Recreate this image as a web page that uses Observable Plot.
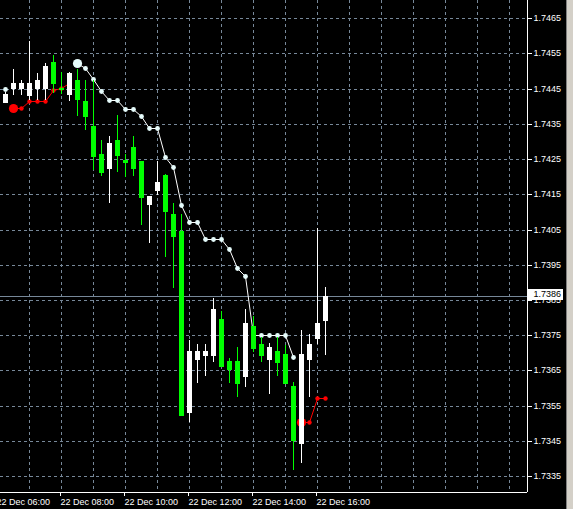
<!DOCTYPE html>
<html><head><meta charset="utf-8">
<script src="https://cdn.jsdelivr.net/npm/d3@7"></script>
<script src="https://cdn.jsdelivr.net/npm/@observablehq/plot@0.6"></script>
<style>
html,body{margin:0;padding:0;background:#000;overflow:hidden;}
#wrap{display:flex;width:573px;height:509px;}
#chart{width:566px;height:509px;}
#edge{width:7px;height:509px;background:#d4d0c8;border-left:1px solid #808080;box-sizing:border-box;}
</style></head><body>
<div id="wrap"><div id="chart"></div><div id="edge"></div></div>
<script>
// 15-minute bars, 22 Dec
const times = ["06:15","06:30","06:45","07:00","07:15","07:30","07:45","08:00","08:15","08:30",
  "08:45","09:00","09:15","09:30","09:45","10:00","10:15","10:30","10:45","11:00",
  "11:15","11:30","11:45","12:00","12:15","12:30","12:45","13:00","13:15","13:30",
  "13:45","14:00","14:15","14:30","14:45","15:00","15:15","15:30","15:45","16:00","16:15"];
const open = [1.74413,1.74453,1.74453,1.74432,1.74453,1.74453,1.74526,1.74453,1.74434,1.74475,
  1.74415,1.74344,1.74264,1.74224,1.74304,1.74246,1.74283,1.74245,1.74122,1.74162,
  1.74205,1.74094,1.74046,1.73532,1.73682,1.73694,1.73695,1.73796,1.73677,1.73677,
  1.73635,1.73776,1.73724,1.73683,1.73705,1.73696,1.73606,1.73445,1.73683,1.73743,1.73794];
const high = [1.74440,1.74506,1.74475,1.74585,1.74494,1.74524,1.74546,1.74497,1.74497,1.74506,
  1.74475,1.74475,1.74304,1.74315,1.74375,1.74264,1.74315,1.74245,1.74145,1.74245,
  1.74208,1.74126,1.74094,1.73736,1.73725,1.73725,1.73855,1.73819,1.73684,1.73716,
  1.73824,1.73804,1.73746,1.73727,1.73746,1.73722,1.73617,1.73765,1.73753,1.74053,1.73887];
const low = [1.74411,1.74432,1.74432,1.74418,1.74418,1.74418,1.74437,1.74435,1.74415,1.74372,
  1.74333,1.74219,1.74202,1.74124,1.74214,1.74200,1.74202,1.74063,1.74013,1.74148,
  1.73973,1.73885,1.73520,1.73503,1.73615,1.73634,1.73675,1.73660,1.73615,1.73574,
  1.73604,1.73702,1.73675,1.73584,1.73634,1.73613,1.73367,1.73386,1.73574,1.73724,1.73694];
const close = [1.74435,1.74467,1.74467,1.74466,1.74475,1.74514,1.74465,1.74450,1.74494,1.74421,
  1.74372,1.74259,1.74214,1.74295,1.74262,1.74243,1.74224,1.74143,1.74145,1.74184,
  1.74103,1.74032,1.73523,1.73705,1.73705,1.73705,1.73824,1.73662,1.73654,1.73615,
  1.73784,1.73714,1.73694,1.73717,1.73675,1.73615,1.73452,1.73696,1.73725,1.73784,1.73860];
// indicator (upper, white) and (lower, red) – null = not drawn
const upperLine = [1.74449,null,null,null,null,null,null,null,null,1.74522,
  1.74508,1.74477,1.74442,1.74417,1.74417,1.74391,1.74391,1.74371,1.74337,1.74337,
  1.74255,1.74227,1.74119,1.74071,1.74071,1.74022,1.74022,1.74022,1.73994,1.73941,
  1.73917,1.73750,1.73750,1.73750,1.73750,1.73750,1.73687,null,null,null,null];
const lowerLine = [null,1.74394,1.74394,1.74416,1.74416,1.74416,1.74445,1.74452,1.74466,null,
  null,null,null,null,null,null,null,null,null,null,
  null,null,null,null,null,null,null,null,null,null,
  null,null,null,null,null,null,null,1.73503,1.73503,1.73571,1.73571];
const timeTickLabels = ["22 Dec 06:00","22 Dec 08:00","22 Dec 10:00","22 Dec 12:00","22 Dec 14:00","22 Dec 16:00"];
const priceTicks = [1.7335,1.7345,1.7355,1.7365,1.7375,1.7385,1.7395,1.7405,1.7415,1.7425,1.7435,1.7445,1.7455,1.7465];

const toMin = s => { const [h, m] = s.slice(-5).split(":").map(Number); return h * 60 + m; };
const t0 = toMin(times[0]);
const barIndex = s => (toMin(s) - t0) / 15;

const candles = times.map((t, i) => ({i, t, o: open[i], h: high[i], l: low[i], c: close[i]}));
const colorOf = d => d.c >= d.o ? "#ffffff" : "#00ff00";
const series = arr => arr.map((v, i) => ({i, v, big: i > 0 && v != null && arr[i - 1] == null}));
const up = series(upperLine), dn = series(lowerLine);

const xDomain = [-0.625, times.length - 1 + 25.25];
const yDomain = [1.733046, 1.747017];
const gridX = d3.range(barIndex("07:00"), xDomain[1], 4);
const tickIdx = timeTickLabels.map(barIndex);
const tickLabelMap = new Map(tickIdx.map((k, j) => [k, timeTickLabels[j]]));
const lastPrice = close[close.length - 1];
const fmt = d3.format(".4f");
const gridColor = "#778899";

const chart = Plot.plot({
  width: 566, height: 509,
  marginTop: 0, marginLeft: 0, marginRight: 39, marginBottom: 17,
  style: {background: "#000", color: "#fff", fontFamily: "'Liberation Sans', Arial, sans-serif", fontSize: "9px"},
  x: {domain: xDomain, axis: null, round: true},
  y: {domain: yDomain, axis: null, round: true},
  color: {type: "identity"},
  marks: [
    Plot.ruleX(gridX, {x: d => d, stroke: gridColor, strokeDasharray: "3,3"}),
    Plot.ruleY(priceTicks, {y: d => d, stroke: gridColor, strokeDasharray: "3,3"}),
    Plot.ruleY([lastPrice], {y: d => d, stroke: gridColor}),
    Plot.line(up, {x: "i", y: "v", stroke: "#ffffff", strokeWidth: 1}),
    Plot.dot(up.filter(d => d.v != null && !d.big), {x: "i", y: "v", r: 2.4, fill: "#e6fcfc", stroke: "none"}),
    Plot.dot(up.filter(d => d.big), {x: "i", y: "v", r: 4.6, fill: "#e6fcfc", stroke: "none"}),
    Plot.line(dn, {x: "i", y: "v", stroke: "#ff0000", strokeWidth: 1}),
    Plot.dot(dn.filter(d => d.v != null && !d.big), {x: "i", y: "v", r: 2.2, fill: "#ff0000", stroke: "none"}),
    Plot.dot(dn.filter(d => d.big), {x: "i", y: "v", r: 4.6, fill: "#ff0000", stroke: "none"}),
    Plot.ruleX(candles, {x: "i", y1: "h", y2: "l", stroke: colorOf}),
    Plot.ruleX(candles, {x: "i", y1: d => Math.max(d.o, d.c), y2: d => Math.min(d.o, d.c), stroke: colorOf, strokeWidth: 5, insetBottom: -1}),
    Plot.ruleX([xDomain[1]], {x: d => d, stroke: "#fff"}),
    Plot.ruleY([yDomain[0]], {y: d => d, stroke: "#fff"}),
    Plot.axisY(priceTicks, {anchor: "right", tickSize: 4, tickPadding: 2, tickFormat: fmt, fontSize: 9, color: "#fff", label: null}),
    Plot.axisX(tickIdx, {anchor: "bottom", tickSize: 4, tickPadding: 2, tickFormat: d => tickLabelMap.get(d), textAnchor: "start", dx: -1, fontSize: 9, color: "#fff", label: null}),
    Plot.text([lastPrice], {
      y: d => d, text: d => fmt(d), frameAnchor: "right", textAnchor: "start", dx: 6, dy: -2,
      fill: "#000", fontSize: 9,
      render(index, scales, values, dimensions, context, next) {
        const g = next(index, scales, values, dimensions, context);
        const wrap = document.createElementNS("http://www.w3.org/2000/svg", "g");
        const py = values.y ? values.y[index[0]] : scales.y(lastPrice);
        const r = document.createElementNS("http://www.w3.org/2000/svg", "rect");
        r.setAttribute("x", dimensions.width - dimensions.marginRight + 1);
        r.setAttribute("y", py - 7);
        r.setAttribute("width", 35);
        r.setAttribute("height", 11);
        r.setAttribute("fill", "#fff");
        wrap.appendChild(r);
        wrap.appendChild(g);
        return wrap;
      }
    })
  ]
});
document.getElementById("chart").appendChild(chart);
</script>
</body></html>
